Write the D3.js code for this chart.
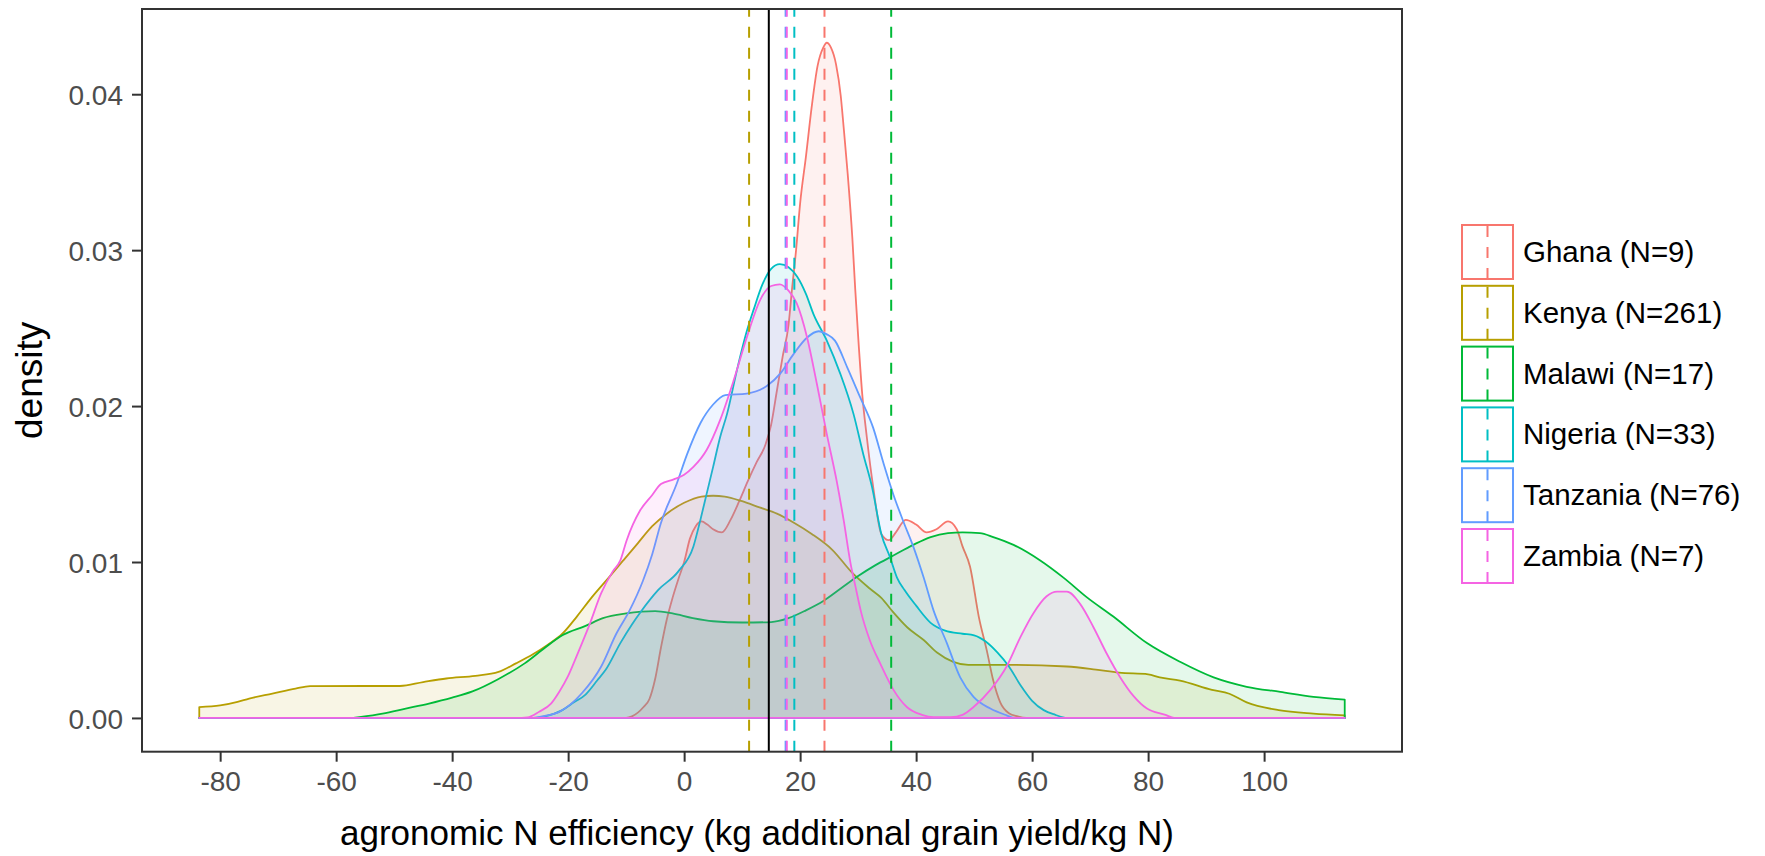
<!DOCTYPE html>
<html>
<head>
<meta charset="utf-8">
<script src="https://cdn.jsdelivr.net/npm/d3@7"></script>
<style>
  html, body { margin: 0; padding: 0; background: #ffffff; }
  svg { display: block; }
  text { font-family: "Liberation Sans", Arial, sans-serif; }
</style>
</head>
<body>
<svg id="chart" width="1765" height="856"></svg>
<script>
// ---------------- data ----------------
const countries = ["Ghana", "Kenya", "Malawi", "Nigeria", "Tanzania", "Zambia"];
const sampleSizes = [9, 261, 17, 33, 76, 7];
const countryColors = ["#F8766D", "#B79F00", "#00BA38", "#00BFC4", "#619CFF", "#F564E3"];
const countryMeans = [24.2, 11.2, 35.7, 19.0, 17.5, 17.7];
const overallMean = 14.6;

const xTicks = [-80, -60, -40, -20, 0, 20, 40, 60, 80, 100];
const xTickLabels = ["-80", "-60", "-40", "-20", "0", "20", "40", "60", "80", "100"];
const yTicks = [0, 0.01, 0.02, 0.03, 0.04];
const yTickLabels = ["0.00", "0.01", "0.02", "0.03", "0.04"];

// density estimates [x, density]
const ghanaDensity = [[-83.6,0],[-10,0],[-9,0.0001],[-7,0.0007],[-6,0.0012],[-5,0.0025],[-4,0.0045],[-3,0.0063],[-2,0.0077],[-1,0.0089],[0,0.0100],[1,0.0115],[2,0.0123],[3,0.0126],[4,0.0124],[5,0.0121],[6.5,0.0119],[8,0.0127],[9.5,0.0139],[11,0.0152],[12.5,0.0164],[14,0.0175],[15,0.0188],[16,0.0210],[17,0.0232],[18,0.0252],[18.6,0.0275],[19.3,0.0300],[20,0.0330],[21,0.0360],[22,0.0392],[23,0.0418],[24,0.0430],[24.6,0.0433],[25.3,0.0430],[26.2,0.0419],[27,0.0399],[27.5,0.0379],[28.2,0.0349],[29,0.0308],[29.5,0.0275],[30,0.0245],[30.7,0.0208],[31.5,0.0180],[32.6,0.0148],[34,0.0118],[35.3,0.0114],[36.5,0.0119],[38.2,0.0127],[40,0.0124],[41.8,0.0119],[43.5,0.0121],[45.5,0.0126],[47,0.0121],[48,0.0110],[49.3,0.0097],[50.8,0.0065],[52.2,0.0043],[53.3,0.0024],[54.5,0.0010],[56,0.0003],[57.5,0.0001],[59,0],[113.9,0]];

const kenyaDensity = [[-83.6,0.0007],[-80,0.0008],[-77,0.00103],[-75,0.00124],[-71,0.00156],[-67,0.00188],[-64.5,0.00204],[-55,0.00205],[-49,0.00205],[-45,0.0023],[-41,0.00253],[-36,0.0027],[-32,0.00295],[-29,0.0035],[-26,0.0041],[-23.5,0.0047],[-21,0.0054],[-18.5,0.0065],[-16,0.0077],[-13,0.0090],[-10.5,0.0101],[-8,0.0112],[-5.5,0.0123],[-3,0.0131],[0,0.0138],[3,0.0142],[5,0.01425],[7,0.0142],[10,0.0139],[13,0.0135],[16,0.0131],[19,0.0125],[22,0.0118],[25.5,0.0108],[29,0.0093],[32,0.0083],[34,0.0077],[36,0.0068],[38.5,0.0058],[41.3,0.0050],[43.6,0.0042],[46.4,0.0036],[49,0.0034],[56,0.0034],[66,0.0033],[71,0.0031],[75,0.0029],[80,0.0028],[82,0.0026],[85.5,0.0024],[91,0.0018],[94,0.00155],[97,0.0010],[102.5,0.0005],[108.5,0.00028],[113.9,0.00017]];

const malawiDensity = [[-83.6,0],[-57,0],[-56,0.00005],[-52,0.00028],[-48,0.0006],[-44,0.00092],[-40,0.0013],[-36.5,0.0017],[-32,0.0025],[-27.5,0.0035],[-24,0.0045],[-21,0.0053],[-17,0.0059],[-14,0.0064],[-10,0.0067],[-5,0.00685],[-2,0.0067],[1.5,0.0064],[5,0.0062],[10,0.00612],[15,0.00615],[18,0.0064],[21,0.0069],[24,0.0075],[27,0.0083],[30,0.0091],[33,0.0098],[36,0.0104],[39.5,0.0111],[42.5,0.0116],[45.5,0.01185],[48,0.0119],[51,0.01185],[53.3,0.0116],[56.8,0.0111],[61.4,0.0101],[65.4,0.0090],[69.4,0.00775],[74,0.0065],[79.8,0.0048],[85.5,0.0036],[91.3,0.0026],[97,0.0020],[102.8,0.00167],[108.5,0.00135],[113.9,0.00118]];

const nigeriaDensity = [[-83.6,0],[-26,0],[-24,0.0001],[-21,0.0005],[-19,0.001],[-17,0.0015],[-15,0.0024],[-13.5,0.0031],[-11,0.0048],[-9,0.0060],[-7.5,0.0068],[-4.5,0.0082],[-1,0.0094],[1.6,0.0110],[2.8,0.0127],[3.9,0.0144],[5,0.0161],[6.2,0.0180],[7.4,0.0195],[9.1,0.0223],[10.8,0.0248],[12,0.0262],[13.5,0.0278],[15,0.0288],[16.5,0.0291],[18,0.0289],[19.5,0.0283],[21,0.0272],[22.3,0.0259],[24.6,0.0242],[26.9,0.0221],[29.2,0.0195],[30.9,0.0169],[32.4,0.0148],[34,0.0118],[35.5,0.0103],[36.7,0.0090],[38,0.0082],[40,0.0072],[42.5,0.0061],[45,0.0056],[48,0.0054],[50,0.0053],[52,0.0049],[54,0.0042],[56,0.0033],[58,0.0021],[60,0.0011],[62,0.0005],[64,0.0002],[66,0],[113.9,0]];

const tanzaniaDensity = [[-83.6,0],[-26,0],[-24.5,0.0001],[-21.5,0.0004],[-17.6,0.0016],[-14.3,0.0033],[-11.7,0.0054],[-9.4,0.0069],[-7.1,0.0088],[-5.5,0.0105],[-4,0.0125],[-1.3,0.0150],[0.5,0.0169],[2.8,0.0189],[5,0.0201],[7.1,0.0207],[10.8,0.0208],[14.3,0.0213],[16.6,0.0221],[18.8,0.0233],[21.2,0.0244],[23.2,0.0248],[24.6,0.0246],[26,0.0242],[28.1,0.0225],[30.3,0.0206],[32.6,0.0186],[34.4,0.0163],[36.1,0.0143],[37.8,0.0126],[39.5,0.0110],[41.3,0.0090],[43,0.0069],[45.3,0.0048],[47.6,0.0026],[49.9,0.00135],[52.8,0.0006],[55.6,0.00017],[57,0],[113.9,0]];

const zambiaDensity = [[-83.6,0],[-28,0],[-27,0.00003],[-25,0.0004],[-23,0.0009],[-21.5,0.0017],[-20,0.0027],[-18.5,0.0040],[-16.3,0.0060],[-14.3,0.0080],[-12.3,0.0094],[-11,0.0101],[-9.9,0.0114],[-7.6,0.0133],[-5.5,0.0143],[-4,0.0150],[-1.8,0.0153],[0,0.0156],[1.6,0.0161],[3.9,0.0172],[6.2,0.0191],[8.5,0.0216],[10.8,0.0244],[13.1,0.0268],[15,0.0277],[16.5,0.0278],[18,0.0274],[19.4,0.0266],[21.2,0.0244],[22.9,0.0214],[24.6,0.0182],[26.3,0.0152],[27.5,0.0127],[28.7,0.0099],[29.5,0.0085],[30.5,0.0068],[32,0.0050],[33.8,0.0035],[36.1,0.0018],[38.4,0.0007],[41,0.0002],[43,0.00005],[46,0.00005],[48,0.0002],[49.9,0.0007],[52.8,0.0018],[55.6,0.0033],[58,0.0052],[60.2,0.0067],[62.5,0.0078],[64.3,0.0081],[66,0.0081],[68.3,0.0073],[70.6,0.0058],[72.9,0.0041],[75.2,0.0026],[77.5,0.0014],[79.8,0.0006],[83,0.0002],[84.5,0],[113.9,0]];

const densities = [ghanaDensity, kenyaDensity, malawiDensity, nigeriaDensity, tanzaniaDensity, zambiaDensity];

// ---------------- layout ----------------
const panel = { left: 142, right: 1402, top: 9, bottom: 751.7 };
const svg = d3.select("#chart");
svg.append("rect").attr("width", 1765).attr("height", 856).attr("fill", "#ffffff");

const allX = densities.flat().map(d => d[0]);
const xMin = d3.min(allX), xMax = d3.max(allX);
const xPad = (xMax - xMin) * 0.05;
const yMaxVal = d3.max(densities.flat(), d => d[1]);

const x = d3.scaleLinear().domain([xMin - xPad, xMax + xPad]).range([panel.left, panel.right]);
const y = d3.scaleLinear().domain([-0.05 * yMaxVal, yMaxVal * 1.05]).range([panel.bottom, panel.top]);

// clip
svg.append("clipPath").attr("id", "clip").append("rect")
  .attr("x", panel.left).attr("y", panel.top)
  .attr("width", panel.right - panel.left).attr("height", panel.bottom - panel.top);

const plot = svg.append("g").attr("clip-path", "url(#clip)");

const area = d3.area()
  .x(d => x(d[0]))
  .y0(y(0))
  .y1(d => y(d[1]))
  .curve(d3.curveMonotoneX);

densities.forEach((dens, i) => {
  const c = d3.color(countryColors[i]);
  c.opacity = 0.1;
  plot.append("path")
    .datum(dens)
    .attr("d", area)
    .attr("fill", c.formatRgb())
    .attr("stroke", countryColors[i])
    .attr("stroke-width", 1.8)
    .attr("stroke-linejoin", "round");
});

// mean lines
countryMeans.forEach((m, i) => {
  plot.append("line")
    .attr("x1", x(m)).attr("x2", x(m))
    .attr("y1", panel.bottom).attr("y2", panel.top)
    .attr("stroke", countryColors[i])
    .attr("stroke-width", 2)
    .attr("stroke-dasharray", "11,10");
});
plot.append("line")
  .attr("x1", x(overallMean)).attr("x2", x(overallMean))
  .attr("y1", panel.bottom).attr("y2", panel.top)
  .attr("stroke", "#000000")
  .attr("stroke-width", 2);

// panel border
svg.append("rect")
  .attr("x", panel.left).attr("y", panel.top)
  .attr("width", panel.right - panel.left).attr("height", panel.bottom - panel.top)
  .attr("fill", "none").attr("stroke", "#333333").attr("stroke-width", 2);

// axes
const xAxis = d3.axisBottom(x).tickValues(xTicks).tickSize(10).tickPadding(9)
  .tickFormat((d, i) => xTickLabels[i]);
const gx = svg.append("g").attr("transform", `translate(0,${panel.bottom})`).call(xAxis);
gx.select(".domain").remove();
gx.selectAll(".tick line").attr("stroke", "#333333").attr("stroke-width", 2);
gx.selectAll(".tick text").attr("fill", "#4D4D4D").attr("font-size", 28)
  .attr("font-family", "'Liberation Sans', Arial, sans-serif");

const yAxis = d3.axisLeft(y).tickValues(yTicks).tickSize(10).tickPadding(9)
  .tickFormat((d, i) => yTickLabels[i]);
const gy = svg.append("g").attr("transform", `translate(${panel.left},0)`).call(yAxis);
gy.select(".domain").remove();
gy.selectAll(".tick line").attr("stroke", "#333333").attr("stroke-width", 2);
gy.selectAll(".tick text").attr("fill", "#4D4D4D").attr("font-size", 28)
  .attr("font-family", "'Liberation Sans', Arial, sans-serif").attr("dy", "0.38em");

// axis titles
svg.append("text")
  .attr("x", 757).attr("y", 845)
  .attr("text-anchor", "middle").attr("font-size", 35).attr("fill", "#000000")
  .text("agronomic N efficiency (kg additional grain yield/kg N)");

svg.append("text")
  .attr("transform", `translate(42,${(panel.top + panel.bottom) / 2}) rotate(-90)`)
  .attr("text-anchor", "middle").attr("font-size", 37).attr("fill", "#000000")
  .text("density");

// legend
const legend = svg.append("g");
const keyX = 1461, keyW = 53, keyH = 56, keyTop = 224, keyStep = 60.8;
countries.forEach((name, i) => {
  const ky = keyTop + i * keyStep;
  legend.append("rect")
    .attr("x", keyX + 1).attr("y", ky + 1)
    .attr("width", keyW - 2).attr("height", keyH - 2)
    .attr("fill", "#ffffff").attr("stroke", countryColors[i]).attr("stroke-width", 2);
  legend.append("line")
    .attr("x1", keyX + keyW / 2).attr("x2", keyX + keyW / 2)
    .attr("y1", ky + keyH - 1).attr("y2", ky + 1)
    .attr("stroke", countryColors[i]).attr("stroke-width", 2)
    .attr("stroke-dasharray", "11,10");
  legend.append("text")
    .attr("x", 1523).attr("y", ky + keyH / 2 + 10)
    .attr("font-size", 29.5).attr("fill", "#000000")
    .text(`${name} (N=${sampleSizes[i]})`);
});
</script>
</body>
</html>
